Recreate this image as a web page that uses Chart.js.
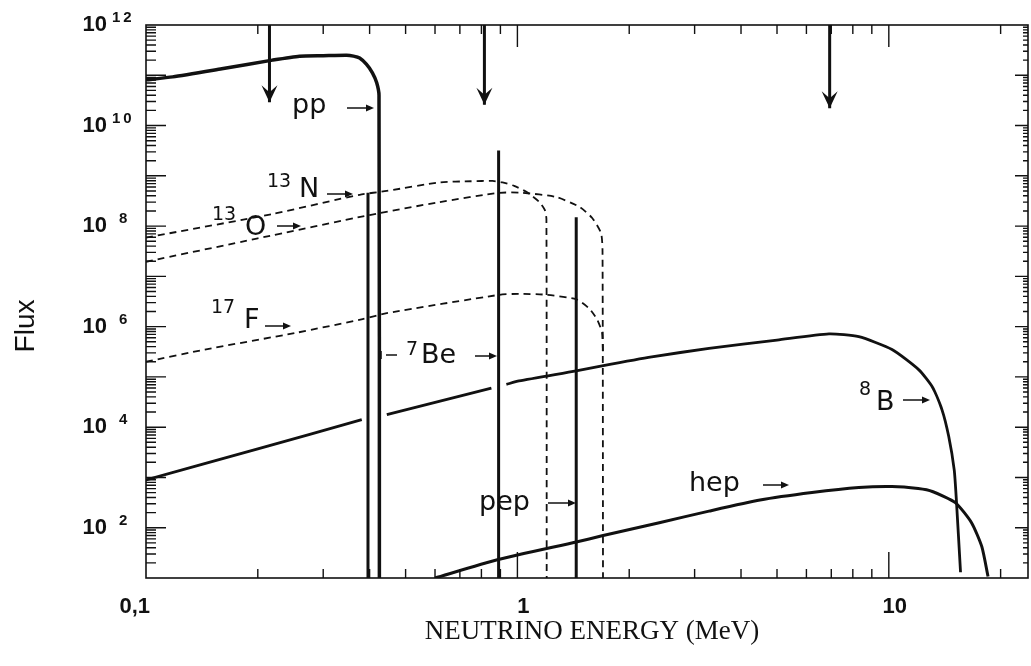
<!DOCTYPE html>
<html>
<head>
<meta charset="utf-8">
<title>Solar neutrino spectrum</title>
<script src="https://cdn.jsdelivr.net/npm/chart.js@4.4.1/dist/chart.umd.min.js"></script>
<style>
  html, body { margin: 0; padding: 0; background: #fff; }
  #wrap { width: 1031px; height: 666px; }
</style>
</head>
<body>
<div id="wrap"><canvas id="chart" width="1031" height="666"></canvas></div>
<script>
// ===== data (energy in MeV) =====
const ppEnergy = [0.1, 0.118, 0.16, 0.219, 0.259, 0.30, 0.347, 0.362, 0.376, 0.392, 0.407, 0.418, 0.424, 0.425];
const ppFlux   = [8.1e10, 9.3e10, 1.35e11, 2.0e11, 2.4e11, 2.45e11, 2.5e11, 2.4e11, 2.2e11, 1.66e11, 1.12e11, 7.1e10, 4.0e10, 10];

const n13Energy = [0.1, 0.219, 0.376, 0.445, 0.617, 0.75, 0.857, 0.912, 0.98, 1.057, 1.146, 1.185, 1.197, 1.199];
const n13Flux   = [5.9e7, 1.74e8, 4.2e8, 5.0e8, 7.4e8, 7.8e8, 7.9e8, 7.4e8, 6.3e8, 4.8e8, 3.0e8, 2.1e8, 1.4e8, 10];

const o15Energy = [0.1, 0.2, 0.4, 0.617, 0.895, 1.03, 1.27, 1.47, 1.59, 1.68, 1.695, 1.70];
const o15Flux   = [1.95e7, 5.7e7, 1.66e8, 3.0e8, 4.6e8, 4.6e8, 3.8e8, 2.4e8, 1.45e8, 7.2e7, 3.2e7, 10];

const f17Energy = [0.1, 0.144, 0.255, 0.383, 0.445, 0.895, 1.01, 1.197, 1.44, 1.56, 1.64, 1.69, 1.70];
const f17Flux   = [2.0e5, 3.5e5, 7.6e5, 1.41e6, 1.86e6, 4.3e6, 4.5e6, 4.3e6, 3.5e6, 2.3e6, 1.38e6, 7.6e5, 3.0e5];

// null = the break the original leaves in the 8B curve
const b8Energy = [0.1, 0.2, 0.381, 0.41, 0.445, 0.851, 0.89, 0.934, 1.01, 1.44, 1.69, 2.3, 3.28, 5.0, 6.9, 8.3, 10.2, 12.05, 13.1, 13.9, 14.5, 15.0, 15.2, 15.6];
const b8Flux   = [8.9e2, 3.7e3, 1.41e4, null, 1.78e4, 6.0e4, null, 7.1e4, 8.3e4, 1.32e5, 1.66e5, 2.5e5, 3.7e5, 5.4e5, 7.2e5, 6.3e5, 3.5e5, 1.38e5, 6.3e4, 2.24e4, 6.5e3, 1.41e3, 3.6e2, 13];

const hepEnergy = [0.60, 0.883, 1.44, 1.69, 2.41, 3.28, 4.5, 6.21, 8.30, 10.2, 12.0, 13.1, 15.1, 16.7, 17.8, 18.5];
const hepFlux   = [10, 23, 52, 69, 126, 214, 355, 500, 630, 660, 600, 525, 316, 126, 42, 10.7];

// monoenergetic lines: 7Be (two) and pep
const lineEnergy = [0.396, 0.89, 1.44];
const lineFlux   = [4.6e8, 3.2e9, 1.5e8];

// detector thresholds (arrows from the top)
const thresholdEnergy = [0.215, 0.815, 6.93];
const thresholdTip    = [2.9e10, 2.6e10, 2.2e10];

const xTickValues = [0.1, 1, 10];
const xTickLabels = ['0,1', '1', '10'];
const yTickExps   = [2, 4, 6, 8, 10, 12];

const X_MIN = 0.1, X_MAX = 23.7, Y_MIN = 10, Y_MAX = 1e12;

// ===== helpers =====
const INK = '#111';

function pts(xs, ys) {
  return xs.map((x, i) => ({ x, y: ys[i] }));
}

function curve(data, width, dash) {
  return {
    data,
    showLine: true,
    borderColor: INK,
    borderWidth: width,
    borderDash: dash || [],
    pointRadius: 0,
    tension: 0.2,
    spanGaps: false,
    fill: false,
  };
}

function arrowRight(ctx, x1, x2, y) {
  ctx.beginPath();
  ctx.moveTo(x1, y);
  ctx.lineTo(x2 - 6, y);
  ctx.stroke();
  ctx.beginPath();
  ctx.moveTo(x2, y);
  ctx.lineTo(x2 - 8, y - 3.5);
  ctx.lineTo(x2 - 8, y + 3.5);
  ctx.closePath();
  ctx.fill();
}

function arrowLeft(ctx, x1, x2, y) {
  ctx.beginPath();
  ctx.moveTo(x1 + 5, y);
  ctx.lineTo(x2, y);
  ctx.stroke();
  ctx.beginPath();
  ctx.moveTo(x1, y - 4);
  ctx.lineTo(x1, y + 4);
  ctx.stroke();
}

function supText(ctx, sup, supX, supY, base, baseX, baseY) {
  ctx.font = '19px "DejaVu Sans"';
  ctx.fillText(sup, supX, supY);
  ctx.font = '27px "DejaVu Sans"';
  ctx.fillText(base, baseX, baseY);
}

// ===== frame, ticks, labels =====
const decorPlugin = {
  id: 'decor',
  afterDatasetsDraw(chart) {
    const ctx = chart.ctx;
    const { left, right, top, bottom } = chart.chartArea;
    const x = chart.scales.x, y = chart.scales.y;
    ctx.save();
    ctx.strokeStyle = INK;
    ctx.fillStyle = INK;
    ctx.setLineDash([]);

    // frame
    ctx.lineWidth = 1.6;
    ctx.strokeRect(left, top, right - left, bottom - top);

    // x ticks, inward on bottom and top
    ctx.lineWidth = 1.4;
    for (let k = -1; k <= 1; k++) {
      for (let m = 1; m <= 9; m++) {
        const v = m * Math.pow(10, k);
        if (v <= X_MIN || v >= X_MAX) continue;
        const px = x.getPixelForValue(v);
        const major = m === 1;
        ctx.beginPath();
        ctx.moveTo(px, bottom);
        ctx.lineTo(px, bottom - (major ? 26 : 9));
        ctx.moveTo(px, top);
        ctx.lineTo(px, top + (major ? 22 : 9));
        ctx.stroke();
      }
    }
    // y ticks, inward on left and right
    for (let k = 1; k <= 11; k++) {
      for (let m = 1; m <= 9; m++) {
        const v = m * Math.pow(10, k);
        if (v <= Y_MIN || v >= Y_MAX) continue;
        const py = y.getPixelForValue(v);
        const major = m === 1;
        ctx.beginPath();
        ctx.moveTo(left, py);
        ctx.lineTo(left + (major ? 20 : 10), py);
        ctx.moveTo(right, py);
        ctx.lineTo(right - (major ? 13 : 5), py);
        ctx.stroke();
      }
    }

    // y tick labels: 10 with exponent
    yTickExps.forEach(e => {
      const py = y.getPixelForValue(Math.pow(10, e));
      ctx.textBaseline = 'middle';
      ctx.textAlign = 'right';
      ctx.font = 'bold 22px "Liberation Sans"';
      ctx.fillText('10', 107, py);
      ctx.textAlign = 'left';
      ctx.font = 'bold 15px "Liberation Sans"';
      const s = String(e);
      ctx.letterSpacing = s.length > 1 ? '3px' : '0px';
      ctx.fillText(s, s.length > 1 ? 112 : 119, py - 7);
      ctx.letterSpacing = '0px';
    });

    // x tick labels
    ctx.textBaseline = 'middle';
    ctx.font = 'bold 22px "Liberation Sans"';
    xTickValues.forEach((v, i) => {
      const px = x.getPixelForValue(v);
      if (i === 0) {
        ctx.textAlign = 'right';
        ctx.fillText(xTickLabels[i], px + 4, 607);
      } else {
        ctx.textAlign = 'center';
        ctx.fillText(xTickLabels[i], px + 6, 607);
      }
    });

    // axis titles
    ctx.textAlign = 'center';
    ctx.textBaseline = 'alphabetic';
    ctx.font = '27px "Liberation Serif"';
    ctx.fillText('NEUTRINO ENERGY (MeV)', (left + right) / 2 + 5, 639);
    ctx.save();
    ctx.translate(34, 326);
    ctx.rotate(-Math.PI / 2);
    ctx.font = '28px "Liberation Sans"';
    ctx.fillText('Flux', 0, 0);
    ctx.restore();

    // threshold arrow heads
    chart.data.datasets.forEach((ds, i) => {
      if (!ds.isThreshold) return;
      const tip = chart.getDatasetMeta(i).data[1];
      ctx.beginPath();
      ctx.moveTo(tip.x, tip.y);
      ctx.lineTo(tip.x - 8, tip.y - 17);
      ctx.lineTo(tip.x, tip.y - 10);
      ctx.lineTo(tip.x + 8, tip.y - 17);
      ctx.closePath();
      ctx.fill();
    });

    // curve labels
    ctx.textAlign = 'left';
    ctx.textBaseline = 'alphabetic';
    ctx.lineWidth = 1.5;
    ctx.font = '27px "DejaVu Sans"';
    ctx.fillText('pp', 292, 113);
    arrowRight(ctx, 347, 374, 108);

    supText(ctx, '13', 267, 187, 'N', 299, 197);
    arrowRight(ctx, 327, 353, 194);

    supText(ctx, '13', 212, 220, 'O', 245, 235);
    arrowRight(ctx, 277, 301, 226);

    supText(ctx, '17', 211, 313, 'F', 244, 328);
    arrowRight(ctx, 265, 291, 326);

    supText(ctx, '7', 406, 355, 'Be', 421, 363);
    arrowLeft(ctx, 381, 397, 355);
    arrowRight(ctx, 475, 497, 356);

    ctx.font = '27px "DejaVu Sans"';
    ctx.fillText('pep', 479, 510);
    arrowRight(ctx, 548, 576, 503);

    ctx.fillText('hep', 689, 491);
    arrowRight(ctx, 763, 789, 485);

    supText(ctx, '8', 859, 395, 'B', 876, 410);
    arrowRight(ctx, 903, 930, 400);

    ctx.restore();
  },
};

// ===== datasets =====
const datasets = [
  curve(pts(ppEnergy, ppFlux), 3.5),
  curve(pts(n13Energy, n13Flux), 1.8, [7, 5]),
  curve(pts(o15Energy, o15Flux), 1.8, [7, 5]),
  curve(pts(f17Energy, f17Flux), 1.8, [7, 5]),
  curve(pts(b8Energy, b8Flux), 2.8),
  curve(pts(hepEnergy, hepFlux), 3),
];

lineEnergy.forEach((e, i) => {
  const ds = curve([{ x: e, y: lineFlux[i] }, { x: e, y: Y_MIN }], 3);
  ds.tension = 0;
  datasets.push(ds);
});

thresholdEnergy.forEach((e, i) => {
  const ds = curve([{ x: e, y: Y_MAX }, { x: e, y: thresholdTip[i] }], 3);
  ds.tension = 0;
  ds.isThreshold = true;
  datasets.push(ds);
});

// ===== chart =====
new Chart(document.getElementById('chart').getContext('2d'), {
  type: 'scatter',
  data: { datasets },
  options: {
    responsive: false,
    animation: false,
    layout: { padding: { left: 146, right: 3, top: 25, bottom: 88 } },
    plugins: { legend: { display: false }, tooltip: { enabled: false } },
    scales: {
      x: { type: 'logarithmic', min: X_MIN, max: X_MAX, display: false },
      y: { type: 'logarithmic', min: Y_MIN, max: Y_MAX, display: false },
    },
  },
  plugins: [decorPlugin],
});
</script>
</body>
</html>
